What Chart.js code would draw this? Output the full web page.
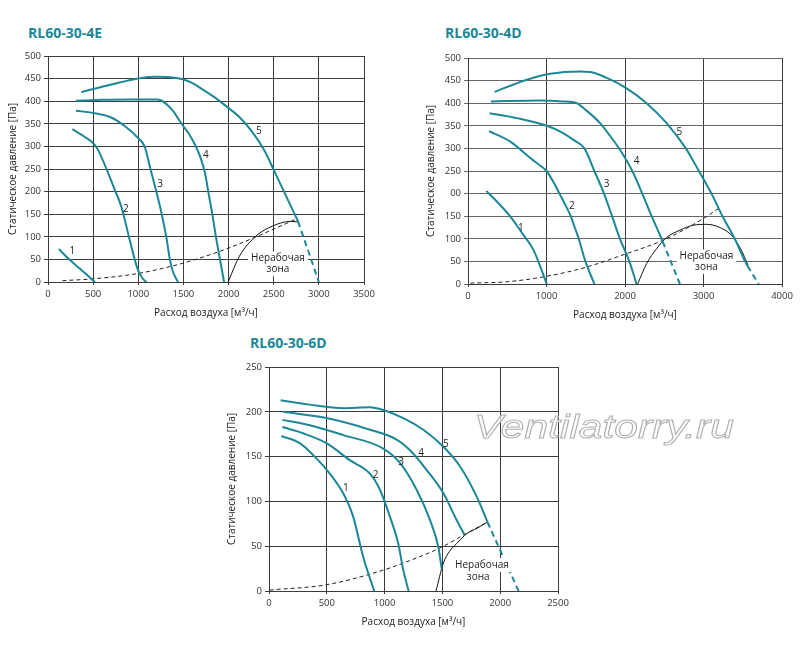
<!DOCTYPE html>
<html>
<head>
<meta charset="utf-8">
<script src="https://cdn.jsdelivr.net/npm/chart.js@4.4.0/dist/chart.umd.min.js"></script>
<style>
  body { margin: 0; background: #fff; width: 800px; height: 661px; position: relative; overflow: hidden; font-family: "Open Sans", sans-serif; }
  .ttl { position: absolute; color: #1b8797; font-weight: bold; font-size: 14px; line-height: 14px; }
  canvas { position: absolute; }
  .wm { position: absolute; left: 604px; top: 407px; font-family: "Liberation Sans", sans-serif; font-style: italic; font-size: 34px;
        color: rgba(255,255,255,0.75); -webkit-text-stroke: 1px #b0b0b0; transform: translateX(-50%) scaleX(1.25); white-space: nowrap; }
</style>
</head>
<body>
<div class="ttl" style="left:28px;top:26px">RL60-30-4E</div>
<div class="ttl" style="left:445px;top:26px">RL60-30-4D</div>
<div class="ttl" style="left:250px;top:336px">RL60-30-6D</div>
<canvas id="c1" width="380" height="282" style="left:0px;top:40px"></canvas>
<canvas id="c2" width="382" height="282" style="left:418px;top:42px"></canvas>
<canvas id="c3" width="359" height="280" style="left:219px;top:351px"></canvas>
<div class="wm">Ventilatorry.ru</div>
<script>
var teal = '#1b8797';

// ---- RL60-30-4E ----
var e4XTicks = [0, 500, 1000, 1500, 2000, 2500, 3000, 3500];
var e4XTickLabels = ['0', '500', '1000', '1500', '2000', '2500', '3000', '3500'];
var e4YTicks = [0, 50, 100, 150, 200, 250, 300, 350, 400, 450, 500];
var e4YTickLabels = ['0', '50', '100', '150', '200', '250', '300', '350', '400', '450', '500'];
var e4Curve1 = [[120, 73], [240, 49], [380, 25], [520, 0]];
var e4Curve2 = [[270, 338], [400, 322], [520, 303], [560, 290], [740, 204], [815, 165], [905, 93], [990, 30], [1040, 10], [1090, 0]];
var e4Curve3 = [[310, 379], [500, 374], [700, 364], [850, 345], [1000, 318], [1070, 300], [1135, 250], [1200, 200], [1260, 150], [1310, 100], [1350, 50], [1380, 25], [1440, 0]];
var e4Curve4 = [[310, 401], [600, 403], [900, 404], [1200, 404], [1260, 401], [1320, 392], [1390, 377], [1480, 350], [1560, 328], [1630, 303], [1680, 280], [1710, 262], [1740, 240], [1775, 200], [1820, 150], [1860, 100], [1905, 50], [1950, 0]];
var e4Curve5 = [[370, 420], [700, 437], [1016, 451], [1200, 454], [1350, 453], [1480, 449], [1600, 440], [1720, 425], [1850, 408], [1980, 388], [2130, 363], [2270, 330], [2400, 290], [2500, 248], [2640, 189], [2770, 134]];
var e4Curve5Dash = [[2770, 134], [3000, 0]];
var e4System = [[160, 3], [500, 7], [1000, 19], [1500, 42], [2000, 75], [2350, 104], [2770, 141]];
var e4Zone = [[1995, 0], [2120, 57], [2300, 101], [2490, 124], [2680, 134], [2770, 133]];
var e4Labels = [['1', 270, 68], ['2', 861, 162], ['3', 1242, 217], ['4', 1748, 281], ['5', 2336, 333]];
var e4ZoneText = [['Нерабочая', 2547, 52], ['зона', 2547, 28]];

// ---- RL60-30-4D ----
var d4XTicks = [0, 1000, 2000, 3000, 4000];
var d4XTickLabels = ['0', '1000', '2000', '3000', '4000'];
var d4YTicks = [0, 50, 100, 150, 200, 250, 300, 350, 400, 450, 500];
var d4YTickLabels = ['0', '50', '100', '150', '00', '250', '300', '350', '400', '450', '500'];
var d4Curve1 = [[233, 206], [370, 182], [540, 149], [700, 110], [835, 75], [1004, 0]];
var d4Curve2 = [[267, 338], [540, 315], [770, 282], [880, 267], [1000, 250], [1090, 225], [1165, 200], [1240, 175], [1309, 150], [1360, 125], [1411, 100], [1496, 50], [1610, 0]];
var d4Curve3 = [[275, 378], [623, 367], [1004, 350], [1200, 335], [1343, 319], [1483, 300], [1610, 250], [1733, 200], [1835, 150], [1936, 100], [2055, 50], [2148, 0]];
var d4Curve4 = [[292, 404], [919, 406], [1200, 404], [1386, 400], [1500, 385], [1682, 356], [1800, 330], [1936, 297], [2093, 250], [2220, 200], [2339, 150], [2466, 100], [2480, 94]];
var d4Curve4Dash = [[2480, 94], [2700, 0]];
var d4Curve5 = [[339, 425], [750, 452], [1047, 465], [1428, 470], [1555, 469], [1767, 456], [2021, 433], [2275, 400], [2530, 356], [2775, 300], [2941, 250], [3102, 200], [3242, 150], [3398, 100], [3530, 50], [3560, 40]];
var d4Curve5Dash = [[3560, 40], [3703, 0]];
var d4System = [[30, 2], [500, 5], [1000, 17], [1500, 37], [2000, 66], [2500, 98], [3000, 145], [3190, 167]];
var d4Zone = [[2161, 0], [2275, 45], [2402, 78], [2530, 103], [2699, 119], [2869, 130], [3038, 132], [3208, 125], [3377, 104], [3504, 67], [3568, 41]];
var d4Labels = [['1', 674, 123], ['2', 1322, 172], ['3', 1767, 220], ['4', 2148, 271], ['5', 2691, 337]];
var d4ZoneText = [['Нерабочая', 3038, 61], ['зона', 3038, 38]];

// ---- RL60-30-6D ----
var s6XTicks = [0, 500, 1000, 1500, 2000, 2500];
var s6XTickLabels = ['0', '500', '1000', '1500', '2000', '2500'];
var s6YTicks = [0, 50, 100, 150, 200, 250];
var s6YTickLabels = ['0', '50', '100', '150', '200', '250'];
var s6Curve1 = [[107, 173], [266, 165], [410, 148], [526, 131], [642, 109], [728, 83], [815, 38], [910, 0]];
var s6Curve2 = [[116, 183], [295, 176], [497, 165], [699, 146], [873, 131], [960, 113], [1046, 83], [1118, 53], [1162, 23], [1208, 0]];
var s6Curve3 = [[116, 191], [353, 185], [642, 174], [988, 159], [1133, 143], [1277, 113], [1393, 79], [1465, 49], [1494, 25]];
var s6Curve4 = [[121, 200], [497, 193], [873, 180], [1104, 169], [1220, 157], [1364, 135], [1509, 109], [1624, 79], [1690, 63]];
var s6Curve5 = [[101, 213], [353, 208], [642, 204], [873, 205], [988, 202], [1162, 193], [1335, 180], [1509, 161], [1653, 139], [1798, 105], [1890, 77]];
var s6Curve5Dash = [[1890, 77], [2159, 0]];
var s6System = [[6, 1], [497, 7], [931, 21], [1220, 34], [1494, 49], [1690, 63], [1890, 77]];
var s6Zone = [[1445, 0], [1508, 31], [1560, 44], [1624, 53], [1711, 64], [1800, 70], [1890, 77]];
var s6Labels = [['1', 665, 115], ['2', 922, 129], ['3', 1142, 144], ['4', 1315, 154], ['5', 1529, 164]];
var s6ZoneText = [['Нерабочая', 1842, 29], ['зона', 1810, 16]];

function line(points, color, width, dash) {
    return {
        data: points.map(function (p) { return { x: p[0], y: p[1] }; }),
        borderColor: color,
        borderWidth: width,
        borderDash: dash || [],
        pointRadius: 0,
        showLine: true,
        fill: false,
        cubicInterpolationMode: 'monotone'
    };
}

var textPlugin = {
    id: 'curveText',
    afterDatasetsDraw: function (chart, args, opts) {
        var ctx = chart.ctx, x = chart.scales.x, y = chart.scales.y;
        ctx.save();
        ctx.font = '10px "Open Sans"';
        ctx.textAlign = 'center';
        ctx.textBaseline = 'middle';
        opts.zone.forEach(function (t) {
            var px = x.getPixelForValue(t[1]), py = y.getPixelForValue(t[2]);
            var w = ctx.measureText(t[0]).width;
            ctx.fillStyle = '#fff';
            ctx.fillRect(px - w / 2 - 3, py - 7, w + 6, 14);
        });
        ctx.fillStyle = '#222';
        opts.zone.concat(opts.nums).forEach(function (t) {
            ctx.fillText(t[0], x.getPixelForValue(t[1]), y.getPixelForValue(t[2]));
        });
        ctx.restore();
    }
};

function makeChart(id, s) {
    var ctx = document.getElementById(id).getContext('2d');
    var sets = s.curves.map(function (c) { return line(c, teal, 2); });
    sets = sets.concat(s.dashes.map(function (c) { return line(c, teal, 2, [6, 4]); }));
    sets.push(line(s.system, '#222', 1, [4, 3]));
    sets.push(line(s.zone, '#111', 1));
    return new Chart(ctx, {
        type: 'scatter',
        data: { datasets: sets },
        plugins: [textPlugin],
        options: {
            responsive: false,
            animation: false,
            events: [],
            layout: { padding: { top: 16, right: s.right, left: 0, bottom: 0 } },
            plugins: {
                legend: { display: false },
                tooltip: { enabled: false },
                curveText: { nums: s.nums, zone: s.zoneText }
            },
            scales: {
                x: {
                    type: 'linear', min: s.xTicks[0], max: s.xTicks[s.xTicks.length - 1],
                    afterBuildTicks: function (sc) { sc.ticks = s.xTicks.map(function (v) { return { value: v }; }); },
                    afterFit: function (sc) { sc.height = 40; },
                    grid: { color: '#3c3c3c', lineWidth: 1, tickLength: 3 },
                    border: { color: '#3c3c3c' },
                    ticks: {
                        color: '#333', font: { family: 'Open Sans', size: 9.5 }, padding: 4, maxRotation: 0,
                        callback: function (v, i) { return s.xLabels[i]; }
                    },
                    title: { display: true, text: 'Расход воздуха [м³/ч]', color: '#222', font: { family: 'Open Sans', size: 10 }, padding: { top: 0, bottom: 3 } }
                },
                y: {
                    type: 'linear', min: s.yTicks[0], max: s.yTicks[s.yTicks.length - 1],
                    afterBuildTicks: function (sc) { sc.ticks = s.yTicks.map(function (v) { return { value: v }; }); },
                    afterFit: function (sc) { sc.width = s.yWidth; },
                    grid: { color: s.hColor, lineWidth: 1, tickLength: 4 },
                    border: { color: '#3c3c3c' },
                    ticks: {
                        color: '#333', font: { family: 'Open Sans', size: 9.5 }, padding: 3,
                        callback: function (v, i) { return s.yLabels[i]; }
                    },
                    title: { display: true, text: 'Статическое давление [Па]', color: '#222', font: { family: 'Open Sans', size: 10 }, padding: { top: 7, bottom: 0 } }
                }
            }
        }
    });
}

makeChart('c1', {
    curves: [e4Curve1, e4Curve2, e4Curve3, e4Curve4, e4Curve5], dashes: [e4Curve5Dash],
    system: e4System, zone: e4Zone, nums: e4Labels, zoneText: e4ZoneText,
    xTicks: e4XTicks, xLabels: e4XTickLabels, yTicks: e4YTicks, yLabels: e4YTickLabels, yWidth: 48, right: 16, hColor: '#3c3c3c'
});
makeChart('c2', {
    curves: [d4Curve1, d4Curve2, d4Curve3, d4Curve4, d4Curve5], dashes: [d4Curve4Dash, d4Curve5Dash],
    system: d4System, zone: d4Zone, nums: d4Labels, zoneText: d4ZoneText,
    xTicks: d4XTicks, xLabels: d4XTickLabels, yTicks: d4YTicks, yLabels: d4YTickLabels, yWidth: 50, right: 18, hColor: '#666'
});
makeChart('c3', {
    curves: [s6Curve1, s6Curve2, s6Curve3, s6Curve4, s6Curve5], dashes: [s6Curve5Dash],
    system: s6System, zone: s6Zone, nums: s6Labels, zoneText: s6ZoneText,
    xTicks: s6XTicks, xLabels: s6XTickLabels, yTicks: s6YTicks, yLabels: s6YTickLabels, yWidth: 50, right: 20, hColor: '#3c3c3c'
});
</script>
</body>
</html>
